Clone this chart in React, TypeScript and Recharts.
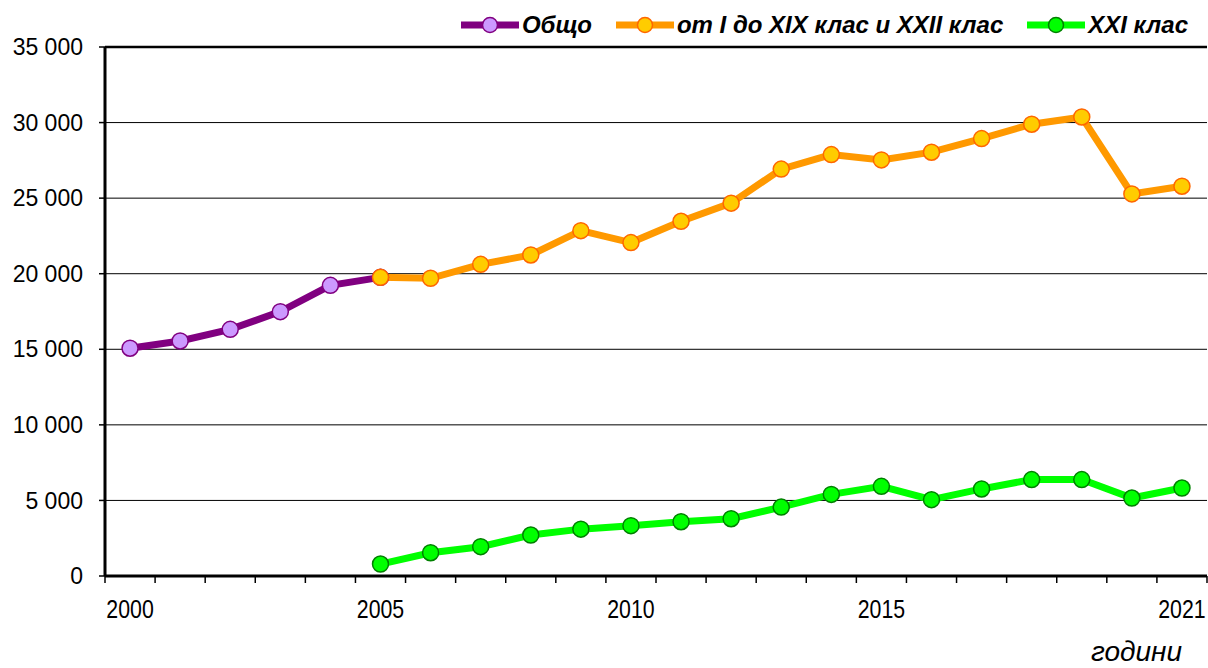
import React from 'react';
import { LineChart, Line, XAxis, YAxis, CartesianGrid, Legend, ReferenceLine } from 'recharts';

const years = [2000, 2001, 2002, 2003, 2004, 2005, 2006, 2007, 2008, 2009, 2010, 2011, 2012, 2013, 2014, 2015, 2016, 2017, 2018, 2019, 2020, 2021];
const labelYears = [2000, 2005, 2010, 2015, 2021];
const yTicks = [0, 5000, 10000, 15000, 20000, 25000, 30000, 35000];

// 2000-2005
const total = [15070, 15550, 16320, 17490, 19230, 19760];
// 2005-2021
const classesMain = [19760, 19700, 20620, 21240, 22850, 22060, 23470, 24670, 26920, 27880, 27530, 28040, 28940, 29890, 30370, 25280, 25790];
// 2005-2021
const classXXI = [790, 1540, 1940, 2710, 3100, 3330, 3590, 3790, 4560, 5400, 5930, 5050, 5760, 6380, 6380, 5160, 5820];

const data = years.map((year, i) => ({
  year,
  total: i < total.length ? total[i] : null,
  main: i >= 5 ? classesMain[i - 5] : null,
  xxi: i >= 5 ? classXXI[i - 5] : null,
}));

// tick marks sit between the years, labels in the middle of each year
const markTicks = [...years.map((y) => y - 0.5), years[years.length - 1] + 0.5];

const series = [
  { key: 'total', name: 'Общо', stroke: '#800080', fill: '#CC99FF', dot: '#800080' },
  { key: 'main', name: 'от I до XIX клас и XXII клас', stroke: '#FF9900', fill: '#FFCC00', dot: '#FF6600' },
  { key: 'xxi', name: 'XXI клас', stroke: '#00FF00', fill: '#00FF00', dot: '#008000' },
];

const fmt = (v: number) => (v >= 1000 ? `${Math.floor(v / 1000)} ${String(v % 1000).padStart(3, '0')}` : String(v));

const LegendBox = () => (
  <div
    style={{
      display: 'flex',
      justifyContent: 'flex-end',
      alignItems: 'center',
      height: 34,
      paddingRight: 20,
      fontFamily: '"Liberation Sans", Arial, sans-serif',
      fontWeight: 'bold',
      fontStyle: 'italic',
      fontSize: 24,
      color: '#000',
    }}
  >
    {series.map((s) => (
      <div key={s.key} style={{ display: 'flex', alignItems: 'center', marginLeft: 24 }}>
        <svg width={58} height={20}>
          <line x1={0} y1={10} x2={58} y2={10} stroke={s.stroke} strokeWidth={7} />
          <circle cx={29} cy={10} r={7.5} fill={s.fill} stroke={s.dot} strokeWidth={1.5} />
        </svg>
        <span style={{ marginLeft: 3 }}>{s.name}</span>
      </div>
    ))}
  </div>
);

const YearTick = (props: any) => {
  const { x, y, payload, width } = props;
  const year = payload.value + 0.5;
  if (!labelYears.includes(year)) return <g />;
  const half = width / (markTicks.length - 1) / 2;
  return (
    <g transform={`translate(${x + half},${y + 17})`}>
      <text
        transform="scale(0.82,1)"
        textAnchor="middle"
        dy="0.71em"
        fontSize={26}
        fontFamily='"Liberation Sans", Arial, sans-serif'
        fill="#000"
      >
        {year}
      </text>
    </g>
  );
};

const AxisTitle = (props: any) => {
  const { viewBox } = props;
  return (
    <text
      x={viewBox.x + viewBox.width - 25}
      y={viewBox.y + 85}
      textAnchor="end"
      fontFamily='"Liberation Sans", Arial, sans-serif'
      fontStyle="italic"
      fontSize={28}
      fill="#000"
    >
      години
    </text>
  );
};

export default function App() {
  return (
    <div style={{ position: 'absolute', left: 0, top: 0, background: '#fff' }}>
      <LineChart width={1208} height={668} data={data} margin={{ top: 13, right: 1, bottom: 0, left: 0 }}>
        <Legend
          verticalAlign="top"
          align="right"
          content={<LegendBox />}
          wrapperStyle={{ top: 8, left: 0, width: 1208 }}
        />
        <CartesianGrid vertical={false} stroke="#000" strokeWidth={1} />
        <XAxis
          type="number"
          dataKey="year"
          domain={[1999.5, 2021.5]}
          ticks={markTicks}
          interval={0}
          tickSize={7}
          tickMargin={0}
          height={92}
          axisLine={{ stroke: '#000', strokeWidth: 3 }}
          tickLine={{ stroke: '#000', strokeWidth: 1.5 }}
          tick={<YearTick />}
          label={<AxisTitle />}
        />
        <YAxis
          domain={[0, 35000]}
          ticks={yTicks}
          width={105}
          tickFormatter={fmt}
          axisLine={{ stroke: '#000', strokeWidth: 3 }}
          tickLine={{ stroke: '#000', strokeWidth: 1.5 }}
          tickSize={6}
          tickMargin={16}
          tick={{ fill: '#000', fontSize: 23, fontFamily: '"Liberation Sans", Arial, sans-serif' }}
        />
        <YAxis
          yAxisId="right"
          orientation="right"
          domain={[0, 35000]}
          width={0}
          tick={false}
          tickLine={false}
          axisLine={{ stroke: '#000', strokeWidth: 1.5 }}
        />
        <ReferenceLine y={35000} stroke="#000" strokeWidth={2.5} />
        {series.map((s) => (
          <Line
            key={s.key}
            dataKey={s.key}
            name={s.name}
            stroke={s.stroke}
            strokeWidth={7}
            dot={{ r: 8, fill: s.fill, stroke: s.dot, strokeWidth: 1.5 }}
            activeDot={false}
            isAnimationActive={false}
            connectNulls={false}
          />
        ))}
      </LineChart>
    </div>
  );
}
